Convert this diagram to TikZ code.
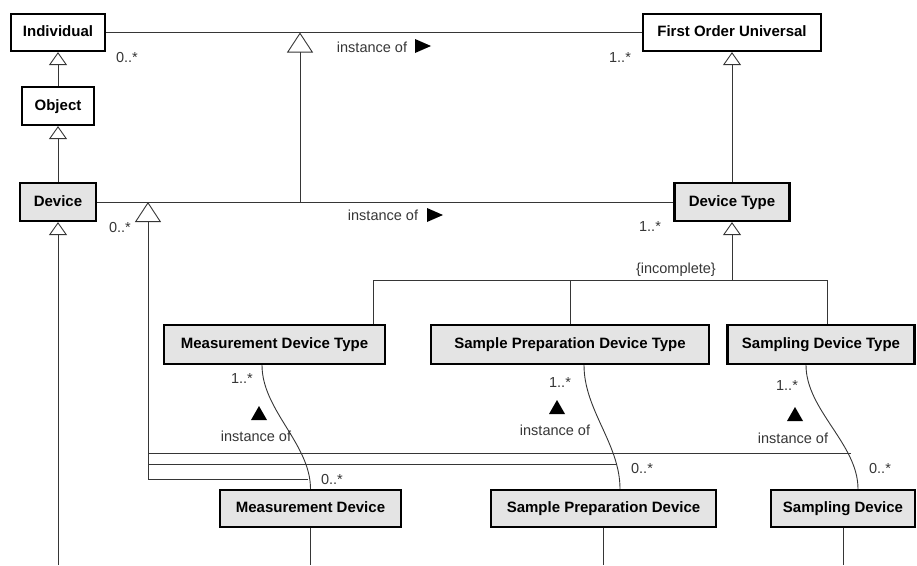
\documentclass[tikz,border=0pt]{standalone}
\usepackage{fontspec}
\setmainfont{Liberation Sans}
\usetikzlibrary{arrows.meta}
\definecolor{boxgray}{HTML}{E4E4E4}
\definecolor{linegray}{HTML}{363636}

\begin{document}
\begin{tikzpicture}[x=1pt,y=-1pt,
  cls/.style={draw,line width=2.2pt,fill=white,inner sep=0pt,text height=11pt,text depth=3pt,
    font=\fontsize{15}{17}\selectfont\bfseries},
  kind/.style={cls,fill=boxgray},
  lbl/.style={text=linegray,inner sep=0pt,font=\fontsize{14.5}{16}\selectfont},
  assoc/.style={draw=linegray,line width=0.9pt},
  gen/.style={assoc,-{Triangle[open,length=13pt,width=18pt]}},
  biggen/.style={assoc,-{Triangle[open,length=20pt,width=26pt]}}]
\useasboundingbox (0,0) rectangle (917,565);

\node[cls,minimum width=94pt,minimum height=37pt] (indiv) at (58,32.5) {Individual};
\node[cls,minimum width=72pt,minimum height=38pt] (object) at (58,106) {Object};
\node[kind,minimum width=76pt,minimum height=38pt] (device) at (58,202) {Device};
\node[cls,minimum width=178pt,minimum height=37pt] (fou) at (732,32.5) {First Order Universal};
\node[kind,minimum width=115pt,minimum height=38pt] (dtype) at (732,202) {Device Type};

\node[kind,minimum width=221pt,minimum height=39pt] (mdtype) at (274.5,344.5) {Measurement Device Type};
\node[kind,minimum width=278pt,minimum height=39pt] (spdtype) at (570,344.5) {Sample Preparation Device Type};
\node[kind,minimum width=187pt,minimum height=39pt] (sdtype) at (821,344.5) {Sampling Device Type};
\node[kind,minimum width=181pt,minimum height=37pt] (mdev) at (310.5,508.5) {Measurement Device};
\node[kind,minimum width=225pt,minimum height=37pt] (spdev) at (603.5,508.5) {Sample Preparation Device};
\node[kind,minimum width=144pt,minimum height=37pt] (sdev) at (843,508.5) {Sampling Device};

\coordinate (foot) at (0,565);
\coordinate (ilink) at (300,32.5);
\coordinate (dlink) at (300,202);
\coordinate (dtop) at (148,202);
\coordinate (gset) at (732,280);
\coordinate (gl) at (373,280);
\coordinate (gr) at (827,280);
\coordinate (mjoin) at (308,479);
\coordinate (sjoin) at (617,464);
\coordinate (djoin) at (851,453);

\draw[gen] (object) -- (indiv);
\draw[gen] (device) -- (object);
\draw[gen] (device.south |- foot) -- (device);
\draw[gen] (dtype) -- (fou);
\draw[assoc] (indiv) -- (fou);
\draw[assoc] (device) -- (dtype);
\draw[biggen] (dlink) -- (ilink);

\draw[gen] (gset) -- (dtype);
\draw[assoc] (gl) -- (gr);
\draw[assoc] (gl) -- (gl |- mdtype.north);
\draw[assoc] (spdtype.north |- gset) -- (spdtype.north);
\draw[assoc] (gr) -- (gr |- sdtype.north);

\draw[assoc] ([xshift=-12.5pt]mdtype.south) .. controls +(0,45) and +(0,-45) .. (mdev.north);
\draw[assoc] ([xshift=14pt]spdtype.south) .. controls +(0,45) and +(0,-45) .. ([xshift=16.5pt]spdev.north);
\draw[assoc] ([xshift=-15pt]sdtype.south) .. controls +(0,45) and +(0,-45) .. ([xshift=15pt]sdev.north);

\draw[biggen] (mjoin) -| (dtop);
\draw[assoc] (sjoin) -- (sjoin -| dtop);
\draw[assoc] (djoin) -- (djoin -| dtop);

\foreach \n in {mdev,spdev,sdev}
  \draw[assoc] (\n) -- (\n.south |- foot);

\foreach \n/\x/\y/\t in {m1/127/58/0..*, m2/620/58/1..*, m3/120/228/0..*, m4/650/227/1..*,
    m5/242/379/1..*, m6/332/479/0..*, m7/560/383/1..*, m8/642/468/0..*,
    m9/787/386/1..*, m10/880/468/0..*,
    i1/372/47/instance of, i2/383/215/instance of, i3/256/436/instance of,
    i4/555/430/instance of, i5/793/438/instance of}
  \node[lbl] (\n) at (\x,\y) {\t};
\node[lbl,anchor=east] (incompl) at (716,270) {\{incomplete\}};

\foreach \x/\y in {423/46,435/215}
  \fill (\x-8,\y-7) -- (\x+8,\y) -- (\x-8,\y+7) -- cycle;
\foreach \x/\y in {259/413,557/407,795/414}
  \fill (\x-8,\y+7) -- (\x+8,\y+7) -- (\x,\y-7) -- cycle;
\end{tikzpicture}
\end{document}
